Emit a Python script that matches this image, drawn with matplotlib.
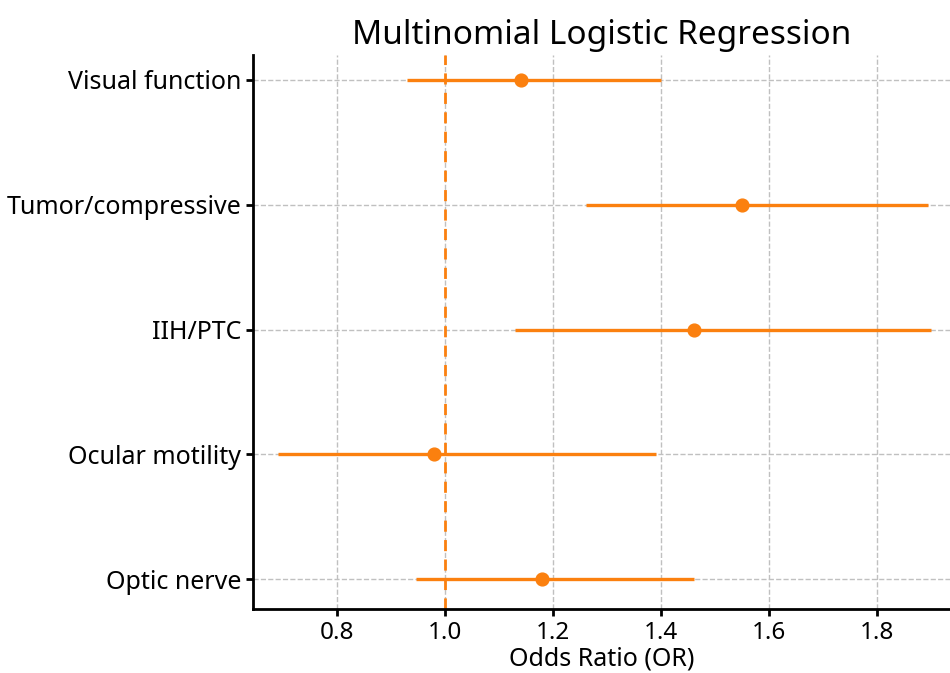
import matplotlib
matplotlib.use("Agg")
import matplotlib.pyplot as plt

categories = ["Optic nerve", "Ocular motility", "IIH/PTC", "Tumor/compressive", "Visual function"]
odds_ratio = [1.18, 0.98, 1.46, 1.55, 1.14]
ci_lower = [0.945, 0.69, 1.13, 1.26, 0.93]
ci_upper = [1.46, 1.39, 1.90, 1.895, 1.40]
x_ticks = [0.8, 1.0, 1.2, 1.4, 1.6, 1.8]

plt.rcParams['font.family'] = ['Noto Sans', 'DejaVu Sans']
color = "#fb800f"

fig = plt.figure(figsize=(9.5, 6.73), dpi=100)
ax = fig.add_axes([253/950, 1 - 609/673, 1 - 253/950, (609 - 55)/673])

y = list(range(len(categories)))
err_low = [o - l for o, l in zip(odds_ratio, ci_lower)]
err_high = [u - o for o, u in zip(odds_ratio, ci_upper)]
ax.errorbar(odds_ratio, y, xerr=[err_low, err_high], fmt='o', color=color,
            ecolor=color, elinewidth=2.4, markersize=9.2, capsize=0, zorder=3)
ax.axvline(1.0, color=color, linestyle='--', linewidth=2, dashes=(4, 3), zorder=2)

ax.set_yticks(y)
ax.set_yticklabels(categories, fontsize=18)
ax.set_xticks(x_ticks)
ax.set_xticklabels([f"{t:.1f}" for t in x_ticks], fontsize=17.5)
ax.set_xlim(0.644, 1.935)
ax.set_ylim(-0.24, 4.2)
ax.set_xlabel("Odds Ratio (OR)", fontsize=18, labelpad=1)
ax.set_title("Multinomial Logistic Regression", fontsize=24, pad=8)

ax.grid(True, linestyle='--', color='#c0c0c0', linewidth=1, zorder=0)
ax.set_axisbelow(True)
for s in ['top', 'right']:
    ax.spines[s].set_visible(False)
for s in ['left', 'bottom']:
    ax.spines[s].set_linewidth(2)
ax.tick_params(axis='both', width=2, length=5)

fig.savefig("out.png", dpi=100)
